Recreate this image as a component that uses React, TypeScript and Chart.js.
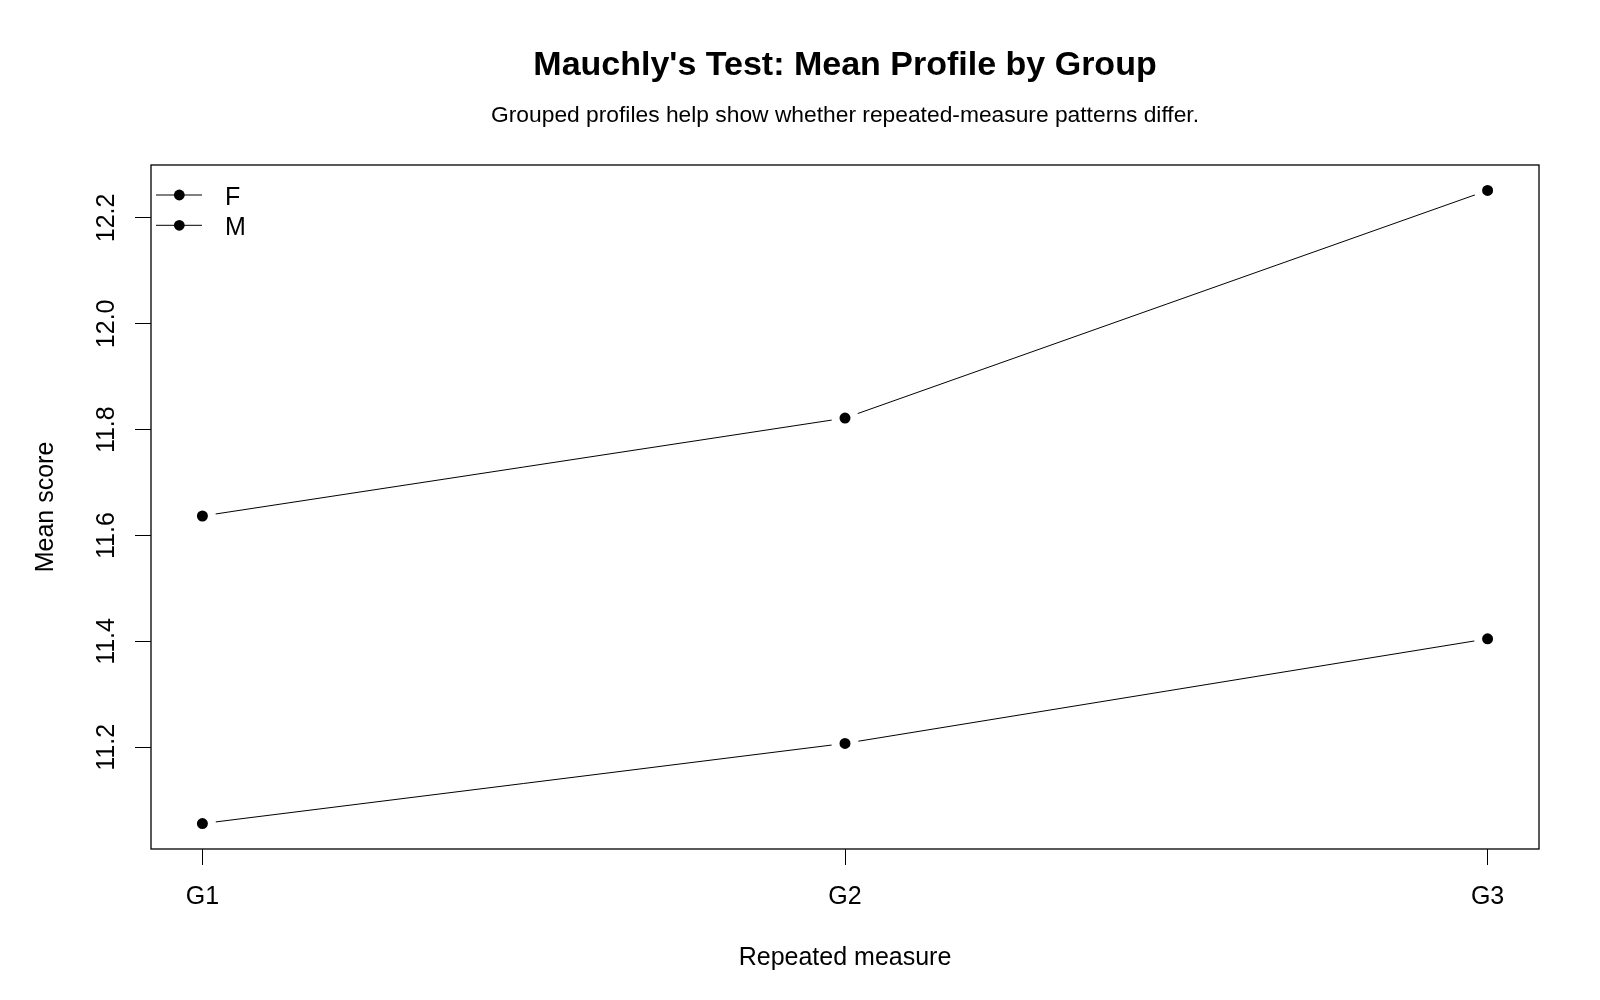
import React, { useEffect, useRef } from "react";
import { Chart, registerables } from "chart.js";

Chart.register(...registerables);

const categories = ["G1", "G2", "G3"];
const groupLabels = ["F", "M"];
const femaleMeans = [11.637, 11.822, 12.252];
const maleMeans = [11.056, 11.2075, 11.405];
const yTickValues = [11.2, 11.4, 11.6, 11.8, 12.0, 12.2];
const xTickValues = [1, 2, 3];

const titleText = "Mauchly's Test: Mean Profile by Group";
const subtitleText = "Grouped profiles help show whether repeated-measure patterns differ.";
const FONT = "'Liberation Sans', Arial, Helvetica, sans-serif";

const decorPlugin = {
  id: "decor",
  afterDraw(chart: any) {
    const { ctx, chartArea } = chart;
    const { left, right, top, bottom } = chartArea;
    ctx.save();
    // plot box
    ctx.strokeStyle = "#000";
    ctx.lineWidth = 1.3;
    ctx.strokeRect(left, top, right - left, bottom - top);

    // title + subtitle
    const cx = (left + right) / 2;
    ctx.fillStyle = "#000";
    ctx.textAlign = "center";
    ctx.textBaseline = "alphabetic";
    ctx.font = `bold 34px ${FONT}`;
    ctx.fillText(titleText, cx, 75);
    ctx.font = `22.8px ${FONT}`;
    ctx.fillText(subtitleText, cx, 121.5);

    // y tick labels (rotated, as in R)
    const ys = chart.scales.y;
    ctx.font = `25px ${FONT}`;
    ys.ticks.forEach((t: any) => {
      const py = ys.getPixelForValue(t.value);
      ctx.save();
      ctx.translate(113.5, py);
      ctx.rotate(-Math.PI / 2);
      ctx.textAlign = "center";
      ctx.textBaseline = "alphabetic";
      ctx.fillText(Number(t.value).toFixed(1), 0, 0);
      ctx.restore();
    });

    // legend
    chart.data.datasets.forEach((ds: any, i: number) => {
      const ly = 195 + i * 30.3;
      ctx.strokeStyle = "#000";
      ctx.lineWidth = 1;
      ctx.beginPath();
      ctx.moveTo(156, ly);
      ctx.lineTo(202, ly);
      ctx.stroke();
      ctx.beginPath();
      ctx.arc(179.3, ly, 5.4, 0, Math.PI * 2);
      ctx.fillStyle = "#000";
      ctx.fill();
      ctx.font = `25px ${FONT}`;
      ctx.textAlign = "left";
      ctx.textBaseline = "alphabetic";
      ctx.fillText(ds.label, 225, ly + 9.5);
    });
    ctx.restore();
  },
};

export default function App() {
  const canvasRef = useRef<HTMLCanvasElement | null>(null);

  useEffect(() => {
    if (!canvasRef.current) return;
    const makeDs = (label: string, vals: number[]) => ({
      label,
      data: vals.map((v, i) => ({ x: i + 1, y: v })),
      borderColor: "#000",
      borderWidth: 1,
      backgroundColor: "#000",
      pointBackgroundColor: "#000",
      pointBorderColor: "#fff",
      pointRadius: 9.5,
      pointBorderWidth: 8,
      pointHoverRadius: 9.5,
      tension: 0,
      fill: false,
    });
    const chart = new Chart(canvasRef.current, {
      type: "line",
      data: {
        datasets: [makeDs(groupLabels[0], femaleMeans), makeDs(groupLabels[1], maleMeans)],
      },
      options: {
        animation: false,
        responsive: true,
        maintainAspectRatio: false,
        events: [],
        layout: { padding: { left: 0, right: 61, top: 165, bottom: 0 } },
        plugins: {
          legend: { display: false },
          title: { display: false },
          tooltip: { enabled: false },
        },
        scales: {
          x: {
            type: "linear",
            min: 0.92,
            max: 3.08,
            afterBuildTicks: (s: any) => {
              s.ticks = xTickValues.map((v) => ({ value: v }));
            },
            afterFit: (s: any) => {
              s.height = 151;
            },
            grid: {
              drawOnChartArea: false,
              drawTicks: true,
              tickLength: 16,
              color: "#000",
              lineWidth: 1,
            },
            border: { display: false },
            ticks: {
              color: "#000",
              font: { family: FONT, size: 25 },
              padding: 17,
              maxRotation: 0,
              minRotation: 0,
              callback: (v: any) => categories[Math.round(Number(v)) - 1] ?? "",
            },
            title: {
              display: true,
              text: "Repeated measure",
              color: "#000",
              font: { family: FONT, size: 25 },
              padding: { top: 0, bottom: 27 },
            },
          },
          y: {
            type: "linear",
            min: 11.008,
            max: 12.3,
            afterBuildTicks: (s: any) => {
              s.ticks = yTickValues.map((v) => ({ value: v }));
            },
            afterFit: (s: any) => {
              s.width = 151;
            },
            grid: {
              drawOnChartArea: false,
              drawTicks: true,
              tickLength: 16,
              color: "#000",
              lineWidth: 1,
            },
            border: { display: false },
            ticks: { display: false },
            title: {
              display: true,
              text: "Mean score",
              color: "#000",
              font: { family: FONT, size: 25 },
              padding: { top: 31.5, bottom: 0 },
            },
          },
        },
      },
      plugins: [decorPlugin],
    });
    return () => chart.destroy();
  }, []);

  return (
    <div style={{ position: "fixed", left: 0, top: 0, width: 1600, height: 1000, background: "#fff" }}>
      <canvas ref={canvasRef} />
    </div>
  );
}
